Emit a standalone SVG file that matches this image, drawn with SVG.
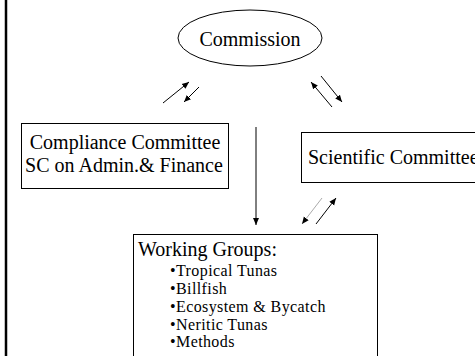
<svg xmlns="http://www.w3.org/2000/svg" width="475" height="356" viewBox="0 0 475 356">
<defs>
<marker id="ah" markerWidth="8" markerHeight="8" refX="7" refY="4" orient="auto" markerUnits="userSpaceOnUse">
<path d="M0,1 L7,4 L0,7 Z" fill="#000"/>
</marker>
<style>
.t{font-family:"Liberation Serif","Times New Roman",serif;fill:#000;font-size:20px}
.s{font-size:16px;letter-spacing:0.4px}
.box{fill:#fff;stroke:#000;stroke-width:1}
.c{stroke:#000;stroke-width:1;fill:none;marker-end:url(#ah)}
</style>
</defs>
<rect x="0" y="0" width="475" height="356" fill="#fff"/>
<line x1="6" y1="0" x2="6" y2="356" stroke="#000" stroke-width="2.5"/>
<g id="commission">
<ellipse class="box" cx="250" cy="38" rx="72" ry="28"/>
<text class="t" x="250" y="46" text-anchor="middle">Commission</text>
</g>
<g id="compliance">
<rect class="box" x="21.5" y="123.5" width="207" height="65"/>
<text class="t" x="125" y="149" text-anchor="middle">Compliance Committee</text>
<text class="t" x="124" y="172" text-anchor="middle">SC on Admin.&amp; Finance</text>
</g>
<g id="scientific">
<rect class="box" x="301.5" y="132.5" width="190" height="50"/>
<text class="t" x="308" y="164">Scientific Committee</text>
</g>
<g id="working">
<rect class="box" x="133.5" y="234.5" width="244" height="140"/>
<text class="t" x="138" y="256">Working Groups:</text>
<text class="t s" x="170" y="276">•Tropical Tunas</text>
<text class="t s" x="170" y="293.5">•Billfish</text>
<text class="t s" x="170" y="311.5">•Ecosystem &amp; Bycatch</text>
<text class="t s" x="170" y="329.5">•Neritic Tunas</text>
<text class="t s" x="170" y="347">•Methods</text>
</g>
<g id="connectors">
<line class="c" x1="163" y1="103" x2="189" y2="82"/>
<line class="c" x1="199" y1="87" x2="184" y2="102"/>
<line class="c" x1="332" y1="107" x2="311" y2="82"/>
<line class="c" x1="321" y1="76" x2="342" y2="102"/>
<line class="c" x1="256" y1="127" x2="256" y2="225"/>
<line class="c" x1="322" y1="198" x2="302" y2="224" style="stroke:#aaa"/>
<line class="c" x1="316" y1="224" x2="336" y2="198"/>
</g>
</svg>
